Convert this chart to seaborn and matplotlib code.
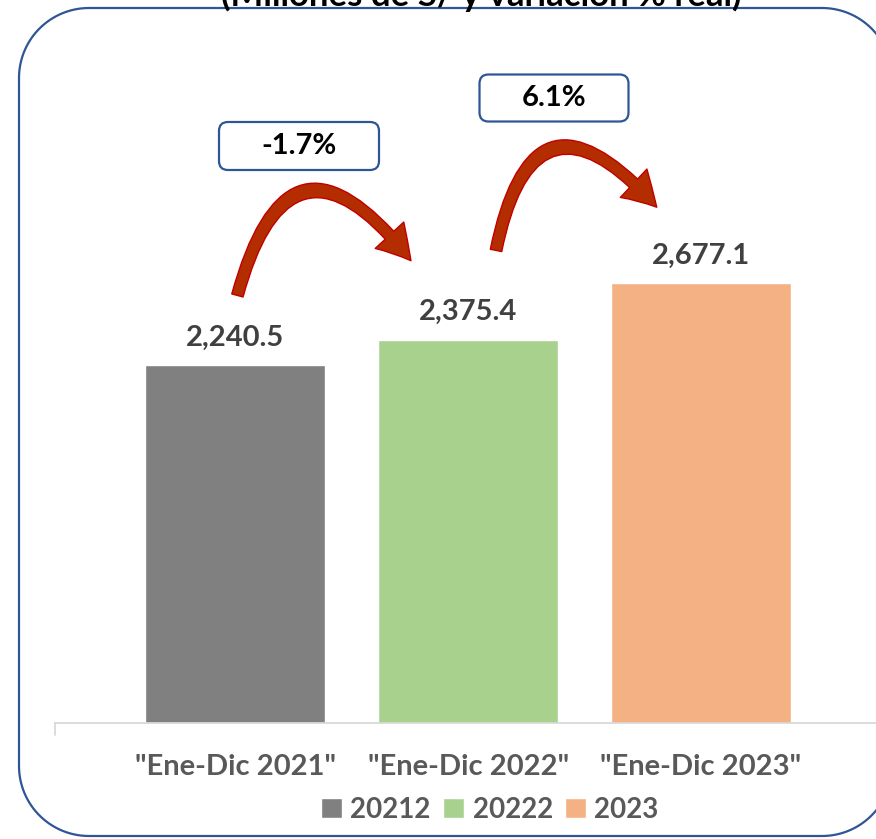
import matplotlib
matplotlib.use("Agg")
import matplotlib.pyplot as plt
from matplotlib.patches import FancyBboxPatch
from matplotlib.lines import Line2D
import seaborn as sns
import pandas as pd
import numpy as np

# data
categories = ['"Ene-Dic 2021"', '"Ene-Dic 2022"', '"Ene-Dic 2023"']
series = ['20212', '20222', '2023']
values = [2240.5, 2375.4, 2677.1]
changes = ['-1.7%', '6.1%']
title = '(Millones de S/ y variación % real)'

colors = ['#808080', '#A9D18E', '#F4B183']
blue = '#2F5597'

sns.set_theme(style='white')
plt.rcParams['font.family'] = ['Lato', 'DejaVu Sans']

W, H = 876, 839
fig = plt.figure(figsize=(W / 100, H / 100), dpi=100)


def px_box(x0, y0, x1, y1, r, **kw):
    # rounded box given in pixels from the top-left corner
    p = FancyBboxPatch((x0 / 100, (H - y1) / 100), (x1 - x0) / 100, (y1 - y0) / 100,
                       boxstyle=f'round,pad=0,rounding_size={r / 100}',
                       transform=fig.dpi_scale_trans, **kw)
    fig.patches.append(p)


def px_frame(x0, y0, x1, y1, r):
    # rounded outline drawn as a line in figure pixels
    t = np.linspace(0, np.pi / 2, 30)
    xs, ys = [], []
    for cx, cy, a0 in [(x1 - r, y0 + r, -np.pi / 2), (x1 - r, y1 - r, 0),
                       (x0 + r, y1 - r, np.pi / 2), (x0 + r, y0 + r, np.pi)]:
        xs += list(cx + r * np.cos(a0 + t))
        ys += list(cy + r * np.sin(a0 + t))
    xs.append(xs[0])
    ys.append(ys[0])
    fig.lines.append(Line2D(np.array(xs) / W, 1 - np.array(ys) / H,
                            transform=fig.transFigure, color=blue, lw=1.6))


# rounded frame around the chart
px_frame(19, 8, 892, 836, 70)

fig.text(0.549, 1 - 6 / H, title, ha='center', va='baseline',
         fontsize=25, fontweight='bold', color='black')

ax = fig.add_axes([55 / W, 1 - 723 / H, 1 - 55 / W, (723 - 30) / H])
df = pd.DataFrame({'cat': categories, 'serie': series, 'val': values})
sns.barplot(data=df, x='cat', y='val', hue='serie', palette=colors,
            dodge=False, width=0.77, saturation=1, ax=ax, legend=True)

ax.set_xlim(-0.773, 2.751)
ax.set_ylim(334, 4024)
ax.set_xlabel('')
ax.set_ylabel('')
ax.set_yticks([])
for s in ['top', 'right', 'left']:
    ax.spines[s].set_visible(False)
ax.spines['bottom'].set_color('#D9D9D9')
ax.spines['bottom'].set_linewidth(1.3)
ax.plot([-0.773, -0.773], [334, 334 - 12 / 0.1878], color='#D9D9D9',
        lw=1.3, clip_on=False)
ax.tick_params(axis='x', length=0, pad=22)
for lab in ax.get_xticklabels():
    lab.set_fontsize(21)
    lab.set_fontweight('bold')
    lab.set_color('#595959')

for i, v in enumerate(values):
    ax.annotate(f'{v:,.1f}', xy=(i, v), xytext=(0, 14), textcoords='offset points',
                ha='center', va='baseline', fontsize=21, fontweight='bold',
                color='#404040')

# curved arrows between the bars
arrow_kw = dict(arrowstyle='simple,head_length=1.2,head_width=1.4,tail_width=0.42',
                fc='#B42D00', ec='#C00000', lw=1, shrinkA=0, shrinkB=0,
                mutation_scale=20)
ax.annotate('', xy=(0.755, values[0] + 555), xytext=(0.01, values[0] + 370),
            arrowprops=dict(connectionstyle='arc3,rad=-1.0', **arrow_kw))
ax.annotate('', xy=(1.81, values[1] + 705), xytext=(1.12, values[1] + 475),
            arrowprops=dict(connectionstyle='arc3,rad=-1.0', **arrow_kw))

# boxes with the real change
for (cx, cy, bw, bh), txt in zip([(299, 146, 160, 48), (554, 98, 149, 47)], changes):
    px_box(cx - bw / 2, cy - bh / 2, cx + bw / 2, cy + bh / 2, 9,
           fc='white', ec=blue, lw=1.6)
    fig.text(cx / W, 1 - cy / H, txt, ha='center', va='center',
             fontsize=21, fontweight='bold', color='black')

handles, labels = ax.get_legend_handles_labels()
ax.get_legend().remove()
fig.legend(handles, labels, loc='center', bbox_to_anchor=(490 / W, 1 - 810 / H),
           ncol=3, frameon=False, handlelength=0.75, handleheight=0.75,
           handletextpad=0.3, columnspacing=0.45,
           prop={'size': 20, 'weight': 'bold'}, labelcolor='#595959')

fig.savefig('out.png', dpi=100)
